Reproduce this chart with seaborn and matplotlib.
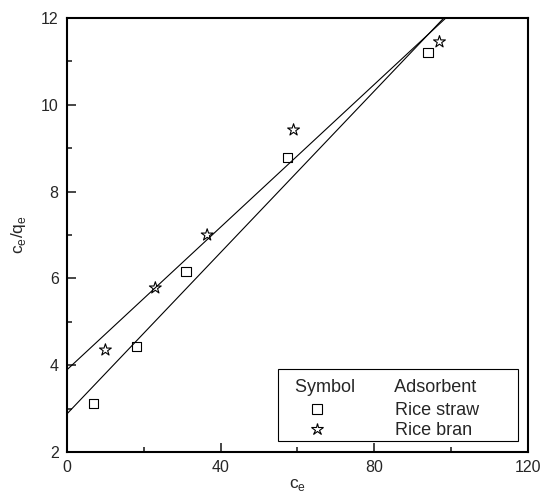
import matplotlib
matplotlib.use("Agg")
import matplotlib.pyplot as plt
from matplotlib.lines import Line2D
from matplotlib.ticker import MultipleLocator
from matplotlib.offsetbox import VPacker, DrawingArea
import seaborn as sns
import pandas as pd

# Data
straw_ce = [7.0, 18.0, 31.0, 57.5, 94.0]
straw_ratio = [3.12, 4.43, 6.15, 8.78, 11.20]
bran_ce = [10.0, 23.0, 36.5, 59.0, 97.0]
bran_ratio = [4.35, 5.78, 7.00, 9.42, 11.45]
series_names = ["Rice straw", "Rice bran"]

df_straw = pd.DataFrame({"ce": straw_ce, "r": straw_ratio})
df_bran = pd.DataFrame({"ce": bran_ce, "r": bran_ratio})

sns.set_style("ticks")
plt.rcParams["font.family"] = ["Liberation Sans", "DejaVu Sans"]
plt.rcParams["mathtext.fontset"] = "custom"
plt.rcParams["mathtext.rm"] = "Liberation Sans"

fig = plt.figure(figsize=(5.43, 4.98), dpi=100)
ax = fig.add_axes([0.1234, 0.0924, 0.972 - 0.1234, 0.9639 - 0.0924])
ax.set_xlim(0, 120)
ax.set_ylim(2, 12)

line_kws = dict(color="black", linewidth=0.8)
sns.regplot(data=df_straw, x="ce", y="r", scatter=False, ci=None, truncate=False,
            line_kws=line_kws, ax=ax)
sns.regplot(data=df_bran, x="ce", y="r", scatter=False, ci=None, truncate=False,
            line_kws=line_kws, ax=ax)
sns.scatterplot(data=df_straw, x="ce", y="r", marker="s", s=44, facecolor="none",
                edgecolor="black", linewidth=0.8, ax=ax, zorder=3)
sns.scatterplot(data=df_bran, x="ce", y="r", marker="*", s=80, facecolor="none",
                edgecolor="black", linewidth=0.8, ax=ax, zorder=3)

ax.set_xlim(0, 120)
ax.set_ylim(2, 12)
ax.xaxis.set_major_locator(MultipleLocator(40))
ax.xaxis.set_minor_locator(MultipleLocator(20))
ax.yaxis.set_major_locator(MultipleLocator(2))
ax.yaxis.set_minor_locator(MultipleLocator(1))
ax.tick_params(which="major", direction="in", length=6.5, width=1.2, labelsize=11.5,
               top=False, right=False, pad=6)
ax.tick_params(which="minor", direction="in", length=3.5, width=1.2, top=False, right=False)
for sp in ax.spines.values():
    sp.set_visible(True)
    sp.set_linewidth(1.5)
    sp.set_color("black")

ax.set_xlabel(r"c$_\mathregular{e}$", fontsize=12.5, labelpad=1)
ax.set_ylabel(r"c$_\mathregular{e}$/q$_\mathregular{e}$", fontsize=12.5, labelpad=9)

handles = [
    Line2D([], [], linestyle="none", marker="s", markersize=6.5, markerfacecolor="none",
           markeredgecolor="black", markeredgewidth=0.8),
    Line2D([], [], linestyle="none", marker="*", markersize=9, markerfacecolor="none",
           markeredgecolor="black", markeredgewidth=0.8),
]
leg = ax.legend(handles, series_names,
                title="   Symbol        Adsorbent        ",
                loc="lower left", bbox_to_anchor=(0.4584, 0.0247), borderaxespad=0,
                fontsize=13, title_fontsize=13, frameon=True, fancybox=False,
                edgecolor="black", framealpha=1, handlelength=4.06, handletextpad=2.3,
                borderpad=0.1, labelspacing=0.2)
# rebuild the legend's vertical packing with spacing like the reference
old_box = leg._legend_box
title_box, handle_box = old_box.get_children()
new_box = VPacker(pad=old_box.pad, sep=0, align="left",
                  children=[DrawingArea(1, 6), title_box, DrawingArea(1, 4), handle_box])
new_box.set_figure(fig)
new_box.axes = ax
new_box.set_offset(leg._findoffset)
leg._legend_box = new_box
leg.get_frame().set_linewidth(0.8)

fig.savefig("out.png", dpi=100)
